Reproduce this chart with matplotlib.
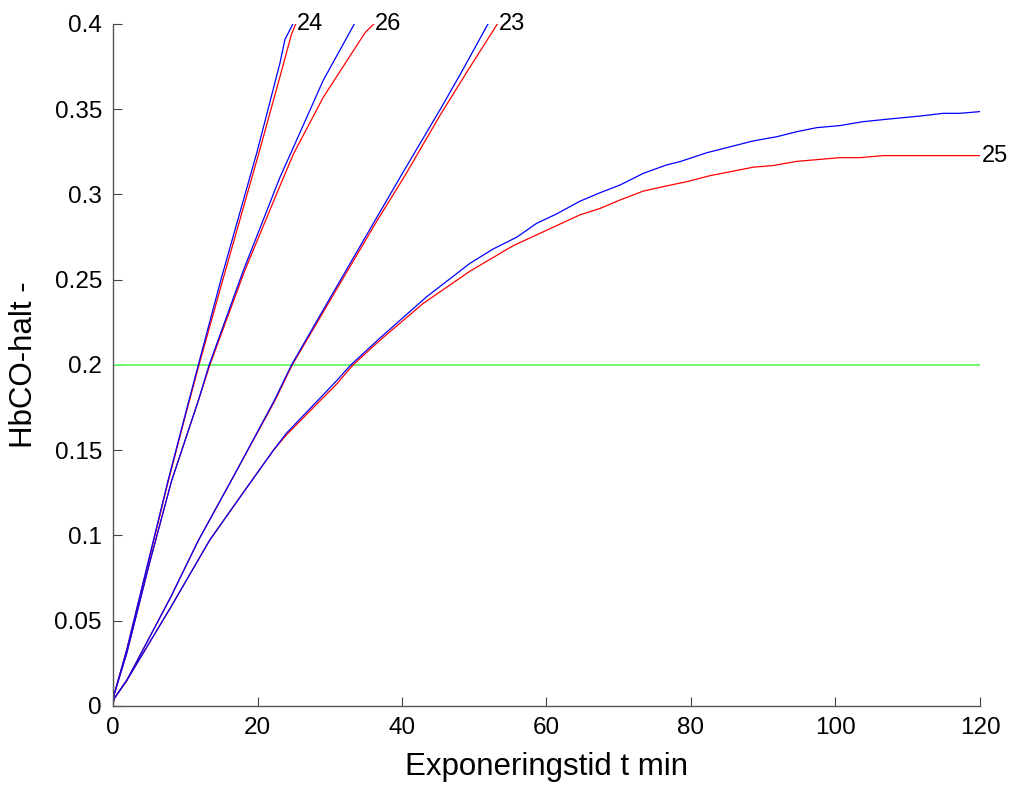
import numpy as np
import matplotlib.pyplot as plt

plt.rcParams["font.family"] = ["Liberation Sans", "DejaVu Sans"]

# curve 24
t24_b = [0, 0.1, 1.9, 5, 7.6, 10, 11.8, 15, 20, 23.1, 23.8, 24.9]
y24_b = [0, 0.006, 0.033, 0.087, 0.132, 0.171, 0.2, 0.251, 0.326, 0.377, 0.391, 0.4]
t24_r = [0, 0.1, 1.9, 5, 7.6, 10, 11.9, 15.2, 20.3, 23.1, 24.7, 25.3]
y24_r = [0, 0.006, 0.033, 0.086, 0.131, 0.170, 0.2, 0.25, 0.326, 0.369, 0.394, 0.4]

# curve 26
t26_b = [0, 0.1, 1.9, 5, 8.1, 11.8, 13.3, 18, 23.1, 25, 29.1, 33.4]
y26_b = [0, 0.006, 0.031, 0.083, 0.132, 0.179, 0.2, 0.255, 0.31, 0.328, 0.367, 0.4]
t26_r = [0, 0.1, 1.9, 5, 8.1, 11.8, 13.4, 18.2, 23.1, 25, 29.1, 34.9, 36.1]
y26_r = [0, 0.006, 0.031, 0.083, 0.132, 0.179, 0.2, 0.255, 0.305, 0.324, 0.357, 0.395, 0.4]

# curve 23
t23_b = [0, 0.1, 1.9, 8, 11.8, 16.4, 22.3, 24.7, 30, 36.3, 40, 45.3, 48, 51.9]
y23_b = [0, 0.004, 0.015, 0.064, 0.097, 0.1325, 0.179, 0.2, 0.239, 0.285, 0.312, 0.35, 0.37, 0.4]
t23_r = [0, 0.1, 1.9, 8, 11.8, 16.4, 22.4, 24.8, 30.2, 36.6, 40.4, 45.2, 49, 53.2]
y23_r = [0, 0.004, 0.015, 0.064, 0.097, 0.1325, 0.179, 0.2, 0.239, 0.285, 0.311, 0.346, 0.372, 0.4]

# curve 25
t25_b = [0, 0.1, 1.9, 8, 13.4, 18, 22.2, 24, 28.3, 31, 32.9, 37, 43.4, 49.4, 52.6,
         55.9, 58.6, 61.4, 64.6, 67.4, 70.2, 73.4, 76.6, 78.5, 82.2, 88.6, 91.9,
         94.6, 97.4, 100.6, 103.8, 107.5, 111.7, 114.9, 117.2, 120]
y25_b = [0, 0.004, 0.015, 0.058, 0.0974, 0.125, 0.150, 0.16, 0.179, 0.191, 0.2, 0.216,
         0.240, 0.2596, 0.268, 0.275, 0.283, 0.2886, 0.296, 0.301, 0.3056, 0.3124,
         0.3173, 0.3193, 0.3245, 0.3314, 0.3339, 0.3368, 0.3392, 0.3404, 0.3427,
         0.3443, 0.346, 0.3476, 0.3476, 0.3486]
t25_r = [0, 0.1, 1.9, 8, 13.4, 18, 22.2, 24, 28.3, 31, 33.2, 37, 42.9, 49.4, 55.4,
         64.6, 67.4, 70.2, 73.4, 76.6, 79.4, 82.6, 88.6, 91.4, 94.6, 100.6, 103.4,
         106.6, 120]
y25_r = [0, 0.004, 0.015, 0.058, 0.0974, 0.125, 0.150, 0.159, 0.1775, 0.189, 0.2, 0.2147,
         0.236, 0.255, 0.270, 0.288, 0.2918, 0.2968, 0.302, 0.305, 0.3075, 0.311,
         0.316, 0.317, 0.3194, 0.3216, 0.3216, 0.3228, 0.3228]

labels = ["24", "26", "23", "25"]
limit = 0.2

fig = plt.figure(figsize=(10.11, 7.89), dpi=100)
ax = fig.add_axes([0.1118, 0.1052, 0.8575, 0.8644])

curves = [(t24_b, y24_b, t24_r, y24_r), (t26_b, y26_b, t26_r, y26_r),
          (t23_b, y23_b, t23_r, y23_r), (t25_b, y25_b, t25_r, y25_r)]

ax.plot([0, 120], [limit, limit], color="#70f870", lw=1.4)
for (tb, yb, tr, yr), lab in zip(curves, labels):
    ax.plot(tr, yr, color="#ff0000", lw=0.9)
    ax.plot(tb, yb, color="#0000ff", lw=0.9)
    ax.text(tr[-1] + 0.2, yr[-1], lab, fontsize=17, ha="left", va="center")

ax.set_xlim(0, 120)
ax.set_ylim(0, 0.4)
ax.set_xticks(np.arange(0, 121, 20))
yt = np.arange(0, 0.401, 0.05)
ax.set_yticks(yt)
ax.set_yticklabels(["0", "0.05", "0.1", "0.15", "0.2", "0.25", "0.3", "0.35", "0.4"])
ax.tick_params(direction="in", length=6.5, width=0.8, color="#444444",
               labelsize=17.5, pad=8)
for s in ["top", "right"]:
    ax.spines[s].set_visible(False)
for s in ["left", "bottom"]:
    ax.spines[s].set_color("#555555")
    ax.spines[s].set_linewidth(1.0)

ax.set_xlabel("Exponeringstid t min", fontsize=22.5, labelpad=9)
ax.set_ylabel("HbCO-halt -", fontsize=22.5, labelpad=11)

fig.savefig("out.png", dpi=100)
